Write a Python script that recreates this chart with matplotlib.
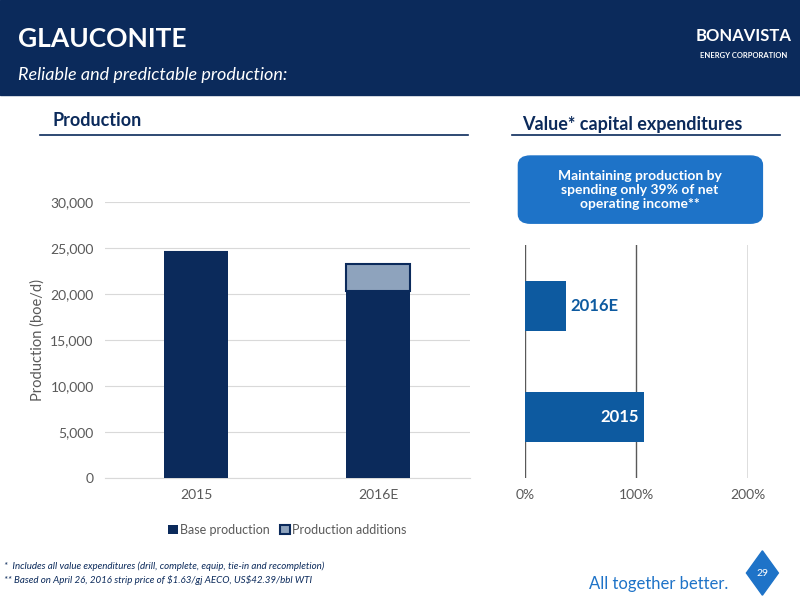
import matplotlib.pyplot as plt
from matplotlib.patches import FancyBboxPatch, Rectangle, Polygon

plt.rcParams['font.family'] = ['Lato', 'DejaVu Sans']

years = ['2015', '2016E']
base_production = [24600, 20400]
production_additions = [0, 2900]
capex_labels = ['2015', '2016E']
capex_pct = [107, 37]

navy = '#0b2a5b'
blue = '#0d5aa0'
light = '#8ea3bd'

fig = plt.figure(figsize=(8, 6), dpi=100)

# header band
fig.patches.append(Rectangle((0, 1 - 95 / 600), 1, 95 / 600, transform=fig.transFigure,
                             color=navy, zorder=0))
fig.text(0.022, 0.935, 'GLAUCONITE', color='white', fontsize=19, fontweight='bold', va='center')
fig.text(0.022, 0.875, 'Reliable and predictable production:', color='white', fontsize=13,
         style='italic', va='center')
fig.text(0.93, 0.94, 'BONAVISTA', color='white', fontsize=12, fontweight='bold',
         ha='center', va='center')
fig.text(0.93, 0.908, 'ENERGY CORPORATION', color='white', fontsize=5.5, fontweight='bold',
         ha='center', va='center')

# section titles
fig.text(0.065, 0.79, 'Production', color=navy, fontsize=13, fontweight='bold')
fig.add_artist(plt.Line2D([0.05, 0.585], [0.775, 0.775], color=navy, lw=1.2))
fig.text(0.652, 0.783, 'Value* capital expenditures', color=navy, fontsize=13, fontweight='bold')
fig.add_artist(plt.Line2D([0.64, 0.975], [0.775, 0.775], color=navy, lw=1.2))

# left bar chart
ax = fig.add_axes([0.131, 0.203, 0.456, 0.46])
x = range(len(years))
ax.bar(x, base_production, width=0.35, color=navy, label='Base production', zorder=3)
ax.bar(x, production_additions, width=0.35, bottom=base_production, color=light,
       edgecolor=navy, linewidth=1.5, label='Production additions', zorder=3)
ax.set_ylim(0, 30000)
ax.set_xlim(-0.5, 1.5)
ax.set_xticks(list(x))
ax.set_xticklabels(years)
ax.set_yticks(range(0, 30001, 5000))
ax.set_yticklabels([f'{v:,}' for v in range(0, 30001, 5000)])
ax.yaxis.grid(True, color='#d9d9d9', lw=0.8, zorder=0)
for s in ['top', 'right', 'left']:
    ax.spines[s].set_visible(False)
ax.spines['bottom'].set_color('#d9d9d9')
ax.tick_params(length=0, colors='#595959', labelsize=10, pad=8)
ax.set_ylabel('Production (boe/d)', color='#595959', fontsize=10.5)
ax.legend(loc='upper center', bbox_to_anchor=(0.5, -0.125), ncol=2, frameon=False,
          fontsize=9, handlelength=0.8, handletextpad=0.2, columnspacing=0.8,
          labelcolor='#595959')

# right horizontal bar chart
ax2 = fig.add_axes([0.656, 0.203, 0.279, 0.389])
ax2.barh(range(len(capex_labels)), capex_pct, height=0.45, color=blue, zorder=3)
ax2.set_xlim(0, 200)
ax2.set_ylim(-0.55, 1.55)
ax2.set_xticks([0, 100, 200])
ax2.set_xticklabels(['0%', '100%', '200%'])
ax2.set_yticks([])
ax2.xaxis.grid(True, color='#595959', lw=1, zorder=0)
for s in ax2.spines.values():
    s.set_visible(False)
ax2.tick_params(length=0, colors='#595959', labelsize=10, pad=8)
for i, (lab, v) in enumerate(zip(capex_labels, capex_pct)):
    if v > 60:
        ax2.text(v - 5, i, lab, ha='right', va='center', color='white', fontsize=12,
                 fontweight='bold')
    else:
        ax2.text(v + 4, i, lab, ha='left', va='center', color=blue, fontsize=12,
                 fontweight='bold')

# callout box
box = FancyBboxPatch((0.648, 0.628), 0.305, 0.112, boxstyle='round,pad=0,rounding_size=0.015',
                     transform=fig.transFigure, color='#1e73c8', zorder=2)
fig.patches.append(box)
fig.text(0.8, 0.684, 'Maintaining production by\nspending only 39% of net\noperating income**',
         color='white', fontsize=10, fontweight='bold', ha='center', va='center',
         linespacing=1.2)

# footnotes
fig.text(0.005, 0.057, '*  Includes all value expenditures (drill, complete, equip, tie-in and recompletion)',
         fontsize=7, style='italic', color=navy, va='center')
fig.text(0.005, 0.033, r'** Based on April 26, 2016 strip price of \$1.63/gj AECO, US\$42.39/bbl WTI',
         fontsize=7, style='italic', color=navy, va='center')
fig.text(0.91, 0.027, 'All together better.', color='#1e73c8', fontsize=12, ha='right', va='center')
fig.patches.append(Polygon([[0.953, 0.082], [0.973, 0.045], [0.953, 0.008], [0.933, 0.045]],
                           closed=True, transform=fig.transFigure, color='#1e73c8'))
fig.text(0.953, 0.045, '29', color='white', fontsize=7.5, ha='center', va='center')

fig.savefig('out.png', dpi=100)
